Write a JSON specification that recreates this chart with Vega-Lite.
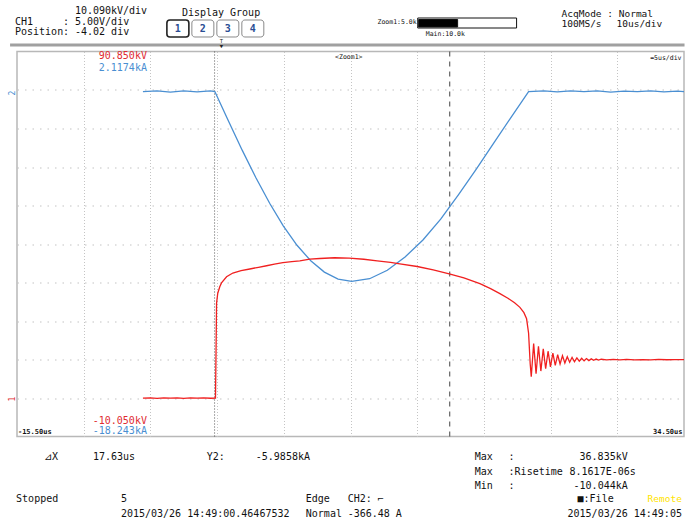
{
  "$schema": "https://vega.github.io/schema/vega-lite/v6.json",
  "width": 667,
  "height": 385,
  "autosize": "none",
  "padding": {"left": 17, "top": 51.5, "right": 1, "bottom": 84.5},
  "background": "white",
  "config": {
    "view": {"stroke": "#b8b8b8", "strokeWidth": 1.5},
    "axisX": {"grid": true, "gridDash": [1, 2], "gridColor": "#c4c4c4", "gridWidth": 1, "labels": false, "ticks": false, "domain": false},
    "axisY": {"grid": true, "gridDash": [1.5, 6], "gridColor": "#c4c4c4", "gridWidth": 1.2, "labels": false, "ticks": false, "domain": false}
  },
  "datasets": {
    "ch1": [
      {"t": -6.06, "kV": 0}, {"t": -5.5, "kV": 0.05}, {"t": -5, "kV": -0.05}, {"t": -4.5, "kV": 0.08}, {"t": -4, "kV": 0},
      {"t": -3.5, "kV": 0.06}, {"t": -3, "kV": -0.04}, {"t": -2.5, "kV": 0.05}, {"t": -2, "kV": 0}, {"t": -1.5, "kV": 0.07},
      {"t": -1, "kV": -0.03}, {"t": -0.62, "kV": 0}, {"t": -0.58, "kV": 12}, {"t": -0.54, "kV": 24.9}, {"t": -0.45, "kV": 27.5},
      {"t": -0.3, "kV": 29.2}, {"t": -0.17, "kV": 30.2}, {"t": 0.21, "kV": 31.8}, {"t": 0.68, "kV": 32.8}, {"t": 1.3, "kV": 33.4},
      {"t": 1.95, "kV": 33.85}, {"t": 2.6, "kV": 34.3}, {"t": 3.21, "kV": 34.7}, {"t": 3.8, "kV": 35.1}, {"t": 4.43, "kV": 35.5},
      {"t": 5.1, "kV": 35.8}, {"t": 5.7, "kV": 36.0}, {"t": 6.45, "kV": 36.45}, {"t": 7.2, "kV": 36.6}, {"t": 8.3, "kV": 36.8},
      {"t": 9.4, "kV": 36.7}, {"t": 10.5, "kV": 36.4}, {"t": 11.5, "kV": 36.0}, {"t": 12.5, "kV": 35.6}, {"t": 13.2, "kV": 35.2},
      {"t": 14.5, "kV": 34.5}, {"t": 15.7, "kV": 33.6}, {"t": 16.9, "kV": 32.6}, {"t": 18.0, "kV": 31.5}, {"t": 19.2, "kV": 30.0},
      {"t": 20.0, "kV": 28.7}, {"t": 20.7, "kV": 27.4}, {"t": 21.3, "kV": 26.2}, {"t": 21.8, "kV": 25.0}, {"t": 22.2, "kV": 23.8},
      {"t": 22.5, "kV": 22.4}, {"t": 22.7, "kV": 20.8}, {"t": 22.85, "kV": 17.0}, {"t": 22.97, "kV": 9.0}, {"t": 23.05, "kV": 5.6},
      {"t": 23.23, "kV": 14.3}, {"t": 23.41, "kV": 6.4}, {"t": 23.59, "kV": 13.6}, {"t": 23.77, "kV": 7.1}, {"t": 23.95, "kV": 12.9},
      {"t": 24.13, "kV": 7.7}, {"t": 24.31, "kV": 12.3}, {"t": 24.49, "kV": 8.2}, {"t": 24.67, "kV": 11.8}, {"t": 24.85, "kV": 8.6},
      {"t": 25.03, "kV": 11.4}, {"t": 25.21, "kV": 8.95}, {"t": 25.39, "kV": 11.1}, {"t": 25.57, "kV": 9.2}, {"t": 25.75, "kV": 10.85},
      {"t": 25.93, "kV": 9.4}, {"t": 26.11, "kV": 10.7}, {"t": 26.29, "kV": 9.55}, {"t": 26.47, "kV": 10.55}, {"t": 26.65, "kV": 9.68},
      {"t": 26.83, "kV": 10.45}, {"t": 27.01, "kV": 9.78}, {"t": 27.19, "kV": 10.38}, {"t": 27.37, "kV": 9.85}, {"t": 27.55, "kV": 10.3},
      {"t": 27.73, "kV": 9.92}, {"t": 27.91, "kV": 10.25}, {"t": 28.09, "kV": 9.96}, {"t": 28.3, "kV": 10.2}, {"t": 28.7, "kV": 10.02},
      {"t": 29.2, "kV": 10.15}, {"t": 29.7, "kV": 10.05}, {"t": 30.2, "kV": 10.15}, {"t": 30.8, "kV": 10.05}, {"t": 31.4, "kV": 10.12},
      {"t": 32.0, "kV": 10.05}, {"t": 32.6, "kV": 10.14}, {"t": 33.2, "kV": 10.06}, {"t": 33.8, "kV": 10.12}, {"t": 34.5, "kV": 10.08}
    ],
    "ch2": [
      {"t": -6.06, "kA": 0}, {"t": -5, "kA": 0.03}, {"t": -4, "kA": -0.03}, {"t": -3, "kA": 0.04}, {"t": -2, "kA": -0.02},
      {"t": -1, "kA": 0.03}, {"t": -0.67, "kA": 0}, {"t": 0.36, "kA": -1.57}, {"t": 1.38, "kA": -3.10}, {"t": 2.41, "kA": -4.56},
      {"t": 3.44, "kA": -5.91}, {"t": 4.46, "kA": -7.10}, {"t": 5.49, "kA": -8.13}, {"t": 6.52, "kA": -8.95}, {"t": 7.54, "kA": -9.55},
      {"t": 8.57, "kA": -9.92}, {"t": 9.59, "kA": -10.04}, {"t": 10.93, "kA": -9.9}, {"t": 12.26, "kA": -9.45}, {"t": 13.59, "kA": -8.75},
      {"t": 14.93, "kA": -7.85}, {"t": 16.26, "kA": -6.75}, {"t": 17.6, "kA": -5.45}, {"t": 18.93, "kA": -4.1}, {"t": 20.26, "kA": -2.7},
      {"t": 21.6, "kA": -1.3}, {"t": 22.85, "kA": 0}, {"t": 24, "kA": 0.03}, {"t": 25, "kA": -0.02}, {"t": 26, "kA": 0.04},
      {"t": 27, "kA": 0}, {"t": 28, "kA": 0.03}, {"t": 29, "kA": -0.03}, {"t": 30, "kA": 0.02}, {"t": 31, "kA": 0},
      {"t": 32, "kA": 0.04}, {"t": 33, "kA": -0.02}, {"t": 34, "kA": 0.02}, {"t": 34.5, "kA": 0}
    ],
    "cursor1": [{"t": -0.69}],
    "cursor2": [{"t": 16.94}],
    "sep": [{"t1": -16.02, "t2": 34.54, "d": 10.169}],
    "boxes": [
      {"t1": -4.264, "t2": -2.616, "d1": 10.818, "d2": 10.377, "tc": -3.44, "dc": 10.597, "label": "1", "sel": true},
      {"t1": -2.392, "t2": -0.744, "d1": 10.818, "d2": 10.377, "tc": -1.567, "dc": 10.597, "label": "2", "sel": false},
      {"t1": -0.519, "t2": 1.129, "d1": 10.818, "d2": 10.377, "tc": 0.305, "dc": 10.597, "label": "3", "sel": false},
      {"t1": 1.354, "t2": 3.002, "d1": 10.818, "d2": 10.377, "tc": 2.178, "dc": 10.597, "label": "4", "sel": false}
    ],
    "zoombar": [
      {"t1": 14.54, "t2": 21.95, "d1": 10.87, "d2": 10.61, "part": "frame"},
      {"t1": 14.61, "t2": 17.53, "d1": 10.831, "d2": 10.636, "part": "fill"}
    ],
    "labels": [
      {"t": -11.16, "d": 11.052, "text": "10.090kV/div", "role": "hdr"},
      {"t": -15.65, "d": 10.779, "text": "CH1", "role": "hdr"},
      {"t": -12.055, "d": 10.779, "text": ": 5.00V/div", "role": "hdr"},
      {"t": -15.65, "d": 10.506, "text": "Position", "role": "hdr"},
      {"t": -12.055, "d": 10.506, "text": ": -4.02 div", "role": "hdr"},
      {"t": -3.14, "d": 11.0, "text": "Display Group", "role": "hdr"},
      {"t": 25.32, "d": 10.974, "text": "AcqMode : Normal", "role": "hdrR"},
      {"t": 25.32, "d": 10.714, "text": "100MS/s", "role": "hdrR"},
      {"t": 29.44, "d": 10.714, "text": "10us/div", "role": "hdrR"},
      {"t": 14.46, "d": 10.766, "text": "Zoom1:5.0k", "role": "smallR"},
      {"t": 15.14, "d": 10.455, "text": "Main:10.0k", "role": "small"},
      {"t": 9.37, "d": 9.857, "text": "<Zoom1>", "role": "smallC"},
      {"t": 34.31, "d": 9.844, "text": "=5us/div", "role": "smallR"},
      {"t": -15.43, "d": 0.117, "text": "-15.50us", "role": "edgeL"},
      {"t": 34.39, "d": 0.117, "text": "34.50us", "role": "edgeR"},
      {"t": -5.76, "d": 9.883, "text": "90.850kV", "role": "red"},
      {"t": -5.76, "d": 0.403, "text": "-10.050kV", "role": "red"},
      {"t": -5.76, "d": 9.584, "text": "2.1174kA", "role": "blue"},
      {"t": -5.76, "d": 0.143, "text": "-18.243kA", "role": "blue"},
      {"t": -13.48, "d": -0.532, "text": "⊿X", "role": "foot"},
      {"t": -9.81, "d": -0.532, "text": "17.63us", "role": "foot"},
      {"t": -1.27, "d": -0.532, "text": "Y2:", "role": "foot"},
      {"t": 2.40, "d": -0.532, "text": "-5.9858kA", "role": "foot"},
      {"t": 18.81, "d": -0.532, "text": "Max", "role": "foot"},
      {"t": 21.35, "d": -0.532, "text": ":", "role": "foot"},
      {"t": 26.67, "d": -0.532, "text": "36.835kV", "role": "foot"},
      {"t": 18.81, "d": -0.922, "text": "Max", "role": "foot"},
      {"t": 21.35, "d": -0.922, "text": ":Risetime", "role": "foot"},
      {"t": 25.92, "d": -0.922, "text": "8.1617E-06s", "role": "foot"},
      {"t": 18.81, "d": -1.286, "text": "Min", "role": "foot"},
      {"t": 21.35, "d": -1.286, "text": ":", "role": "foot"},
      {"t": 26.22, "d": -1.286, "text": "-10.044kA", "role": "foot"},
      {"t": -15.57, "d": -1.623, "text": "Stopped", "role": "foot"},
      {"t": -7.71, "d": -1.623, "text": "5", "role": "foot"},
      {"t": 6.15, "d": -1.623, "text": "Edge", "role": "foot"},
      {"t": 9.29, "d": -1.623, "text": "CH2: ⌐", "role": "foot"},
      {"t": 26.52, "d": -1.623, "text": "■:File", "role": "foot"},
      {"t": 31.77, "d": -1.623, "text": "Remote", "role": "remote"},
      {"t": -7.71, "d": -2.013, "text": "2015/03/26 14:49:00.46467532", "role": "foot"},
      {"t": 6.15, "d": -2.013, "text": "Normal", "role": "foot"},
      {"t": 9.29, "d": -2.013, "text": "-366.48 A", "role": "foot"},
      {"t": 25.77, "d": -2.013, "text": "2015/03/26 14:49:05", "role": "foot"},
      {"t": -15.8, "d": 8.922, "text": "2", "role": "mk2"},
      {"t": -15.8, "d": 0.974, "text": "1", "role": "mk1"},
      {"t": -0.18, "d": 10.273, "text": "T", "role": "trig"},
      {"t": -0.18, "d": 10.13, "text": "▼", "role": "trig"}
    ]
  },
  "resolve": {"scale": {"y": "independent"}},
  "layer": [
    {
      "data": {"name": "sep"},
      "mark": {"type": "rule", "color": "#a0a0a0", "strokeWidth": 3},
      "encoding": {
        "x": {"field": "t1", "type": "quantitative", "scale": {"domain": [-15.5, 34.5], "nice": false, "zero": false}, "axis": {"values": [-10.5, -5.5, -0.5, 4.5, 9.5, 14.5, 19.5, 24.5, 29.5], "title": null}},
        "x2": {"field": "t2"},
        "y": {"field": "d", "type": "quantitative", "scale": {"domain": [0, 10], "nice": false, "zero": false}, "axis": {"values": [1, 2, 3, 4, 5, 6, 7, 8, 9], "title": null}}
      }
    },
    {
      "data": {"name": "cursor1"},
      "mark": {"type": "rule", "color": "#555555", "strokeWidth": 1, "strokeDash": [1, 2]},
      "encoding": {
        "x": {"field": "t", "type": "quantitative", "scale": {"domain": [-15.5, 34.5], "nice": false, "zero": false}, "axis": {"values": [-10.5, -5.5, -0.5, 4.5, 9.5, 14.5, 19.5, 24.5, 29.5], "title": null}}
      }
    },
    {
      "data": {"name": "cursor2"},
      "mark": {"type": "rule", "color": "#444444", "strokeWidth": 1, "strokeDash": [5, 5]},
      "encoding": {
        "x": {"field": "t", "type": "quantitative", "scale": {"domain": [-15.5, 34.5], "nice": false, "zero": false}, "axis": {"values": [-10.5, -5.5, -0.5, 4.5, 9.5, 14.5, 19.5, 24.5, 29.5], "title": null}}
      }
    },
    {
      "data": {"name": "ch2"},
      "mark": {"type": "line", "color": "#4a8fd2", "strokeWidth": 1.3},
      "encoding": {
        "x": {"field": "t", "type": "quantitative", "scale": {"domain": [-15.5, 34.5], "nice": false, "zero": false}, "axis": {"values": [-10.5, -5.5, -0.5, 4.5, 9.5, 14.5, 19.5, 24.5, 29.5], "title": null}},
        "y": {"field": "kA", "type": "quantitative", "scale": {"domain": [-18.243, 2.1174], "nice": false, "zero": false}, "axis": null}
      }
    },
    {
      "data": {"name": "ch1"},
      "mark": {"type": "line", "color": "#f02020", "strokeWidth": 1.3},
      "encoding": {
        "x": {"field": "t", "type": "quantitative", "scale": {"domain": [-15.5, 34.5], "nice": false, "zero": false}, "axis": {"values": [-10.5, -5.5, -0.5, 4.5, 9.5, 14.5, 19.5, 24.5, 29.5], "title": null}},
        "y": {"field": "kV", "type": "quantitative", "scale": {"domain": [-10.05, 90.85], "nice": false, "zero": false}, "axis": null}
      }
    },
    {
      "data": {"name": "boxes"},
      "mark": {"type": "rect", "fill": "white", "cornerRadius": 3},
      "encoding": {
        "x": {"field": "t1", "type": "quantitative", "scale": {"domain": [-15.5, 34.5], "nice": false, "zero": false}, "axis": {"values": [-10.5, -5.5, -0.5, 4.5, 9.5, 14.5, 19.5, 24.5, 29.5], "title": null}},
        "x2": {"field": "t2"},
        "y": {"field": "d1", "type": "quantitative", "scale": {"domain": [0, 10], "nice": false, "zero": false}, "axis": null},
        "y2": {"field": "d2"},
        "stroke": {"condition": {"test": "datum.sel", "value": "#222222"}, "value": "#8a8a8a"},
        "strokeWidth": {"condition": {"test": "datum.sel", "value": 1.6}, "value": 1}
      }
    },
    {
      "data": {"name": "boxes"},
      "mark": {"type": "text", "align": "center", "baseline": "middle", "font": "DejaVu Sans Mono", "fontSize": 10, "fontWeight": "bold", "color": "#2a4d94"},
      "encoding": {
        "x": {"field": "tc", "type": "quantitative", "scale": {"domain": [-15.5, 34.5], "nice": false, "zero": false}, "axis": {"values": [-10.5, -5.5, -0.5, 4.5, 9.5, 14.5, 19.5, 24.5, 29.5], "title": null}},
        "y": {"field": "dc", "type": "quantitative", "scale": {"domain": [0, 10], "nice": false, "zero": false}, "axis": null},
        "text": {"field": "label"}
      }
    },
    {
      "data": {"name": "zoombar"},
      "mark": {"type": "rect", "stroke": "#111111", "strokeWidth": 1},
      "encoding": {
        "x": {"field": "t1", "type": "quantitative", "scale": {"domain": [-15.5, 34.5], "nice": false, "zero": false}, "axis": {"values": [-10.5, -5.5, -0.5, 4.5, 9.5, 14.5, 19.5, 24.5, 29.5], "title": null}},
        "x2": {"field": "t2"},
        "y": {"field": "d1", "type": "quantitative", "scale": {"domain": [0, 10], "nice": false, "zero": false}, "axis": null},
        "y2": {"field": "d2"},
        "fill": {"field": "part", "type": "nominal", "scale": {"domain": ["frame", "fill"], "range": ["#ffffff", "#000000"]}, "legend": null}
      }
    },
    {
      "data": {"name": "labels"},
      "transform": [{"filter": "datum.role == 'hdr' || datum.role == 'foot'"}],
      "mark": {"type": "text", "align": "left", "baseline": "middle", "font": "DejaVu Sans Mono", "fontSize": 10, "color": "#111111"},
      "encoding": {
        "x": {"field": "t", "type": "quantitative", "scale": {"domain": [-15.5, 34.5], "nice": false, "zero": false}, "axis": {"values": [-10.5, -5.5, -0.5, 4.5, 9.5, 14.5, 19.5, 24.5, 29.5], "title": null}},
        "y": {"field": "d", "type": "quantitative", "scale": {"domain": [0, 10], "nice": false, "zero": false}, "axis": null},
        "text": {"field": "text"}
      }
    },
    {
      "data": {"name": "labels"},
      "transform": [{"filter": "datum.role == 'hdrR'"}],
      "mark": {"type": "text", "align": "left", "baseline": "middle", "font": "DejaVu Sans Mono", "fontSize": 9.5, "color": "#111111"},
      "encoding": {
        "x": {"field": "t", "type": "quantitative", "scale": {"domain": [-15.5, 34.5], "nice": false, "zero": false}, "axis": {"values": [-10.5, -5.5, -0.5, 4.5, 9.5, 14.5, 19.5, 24.5, 29.5], "title": null}},
        "y": {"field": "d", "type": "quantitative", "scale": {"domain": [0, 10], "nice": false, "zero": false}, "axis": null},
        "text": {"field": "text"}
      }
    },
    {
      "data": {"name": "labels"},
      "transform": [{"filter": "datum.role == 'remote'"}],
      "mark": {"type": "text", "align": "left", "baseline": "middle", "font": "DejaVu Sans Mono", "fontSize": 9.5, "color": "#ffe400"},
      "encoding": {
        "x": {"field": "t", "type": "quantitative", "scale": {"domain": [-15.5, 34.5], "nice": false, "zero": false}, "axis": {"values": [-10.5, -5.5, -0.5, 4.5, 9.5, 14.5, 19.5, 24.5, 29.5], "title": null}},
        "y": {"field": "d", "type": "quantitative", "scale": {"domain": [0, 10], "nice": false, "zero": false}, "axis": null},
        "text": {"field": "text"}
      }
    },
    {
      "data": {"name": "labels"},
      "transform": [{"filter": "datum.role == 'red'"}],
      "mark": {"type": "text", "align": "right", "baseline": "middle", "font": "DejaVu Sans Mono", "fontSize": 10, "color": "#e02a30"},
      "encoding": {
        "x": {"field": "t", "type": "quantitative", "scale": {"domain": [-15.5, 34.5], "nice": false, "zero": false}, "axis": {"values": [-10.5, -5.5, -0.5, 4.5, 9.5, 14.5, 19.5, 24.5, 29.5], "title": null}},
        "y": {"field": "d", "type": "quantitative", "scale": {"domain": [0, 10], "nice": false, "zero": false}, "axis": null},
        "text": {"field": "text"}
      }
    },
    {
      "data": {"name": "labels"},
      "transform": [{"filter": "datum.role == 'blue'"}],
      "mark": {"type": "text", "align": "right", "baseline": "middle", "font": "DejaVu Sans Mono", "fontSize": 10, "color": "#4a8fd2"},
      "encoding": {
        "x": {"field": "t", "type": "quantitative", "scale": {"domain": [-15.5, 34.5], "nice": false, "zero": false}, "axis": {"values": [-10.5, -5.5, -0.5, 4.5, 9.5, 14.5, 19.5, 24.5, 29.5], "title": null}},
        "y": {"field": "d", "type": "quantitative", "scale": {"domain": [0, 10], "nice": false, "zero": false}, "axis": null},
        "text": {"field": "text"}
      }
    },
    {
      "data": {"name": "labels"},
      "transform": [{"filter": "datum.role == 'small'"}],
      "mark": {"type": "text", "align": "left", "baseline": "middle", "font": "DejaVu Sans Mono", "fontSize": 6.5, "color": "#111111"},
      "encoding": {
        "x": {"field": "t", "type": "quantitative", "scale": {"domain": [-15.5, 34.5], "nice": false, "zero": false}, "axis": {"values": [-10.5, -5.5, -0.5, 4.5, 9.5, 14.5, 19.5, 24.5, 29.5], "title": null}},
        "y": {"field": "d", "type": "quantitative", "scale": {"domain": [0, 10], "nice": false, "zero": false}, "axis": null},
        "text": {"field": "text"}
      }
    },
    {
      "data": {"name": "labels"},
      "transform": [{"filter": "datum.role == 'smallR'"}],
      "mark": {"type": "text", "align": "right", "baseline": "middle", "font": "DejaVu Sans Mono", "fontSize": 6.5, "color": "#111111"},
      "encoding": {
        "x": {"field": "t", "type": "quantitative", "scale": {"domain": [-15.5, 34.5], "nice": false, "zero": false}, "axis": {"values": [-10.5, -5.5, -0.5, 4.5, 9.5, 14.5, 19.5, 24.5, 29.5], "title": null}},
        "y": {"field": "d", "type": "quantitative", "scale": {"domain": [0, 10], "nice": false, "zero": false}, "axis": null},
        "text": {"field": "text"}
      }
    },
    {
      "data": {"name": "labels"},
      "transform": [{"filter": "datum.role == 'smallC'"}],
      "mark": {"type": "text", "align": "center", "baseline": "middle", "font": "DejaVu Sans Mono", "fontSize": 6.5, "color": "#111111"},
      "encoding": {
        "x": {"field": "t", "type": "quantitative", "scale": {"domain": [-15.5, 34.5], "nice": false, "zero": false}, "axis": {"values": [-10.5, -5.5, -0.5, 4.5, 9.5, 14.5, 19.5, 24.5, 29.5], "title": null}},
        "y": {"field": "d", "type": "quantitative", "scale": {"domain": [0, 10], "nice": false, "zero": false}, "axis": null},
        "text": {"field": "text"}
      }
    },
    {
      "data": {"name": "labels"},
      "transform": [{"filter": "datum.role == 'edgeL'"}],
      "mark": {"type": "text", "align": "left", "baseline": "middle", "font": "DejaVu Sans Mono", "fontSize": 7, "fontWeight": "bold", "color": "#111111"},
      "encoding": {
        "x": {"field": "t", "type": "quantitative", "scale": {"domain": [-15.5, 34.5], "nice": false, "zero": false}, "axis": {"values": [-10.5, -5.5, -0.5, 4.5, 9.5, 14.5, 19.5, 24.5, 29.5], "title": null}},
        "y": {"field": "d", "type": "quantitative", "scale": {"domain": [0, 10], "nice": false, "zero": false}, "axis": null},
        "text": {"field": "text"}
      }
    },
    {
      "data": {"name": "labels"},
      "transform": [{"filter": "datum.role == 'edgeR'"}],
      "mark": {"type": "text", "align": "right", "baseline": "middle", "font": "DejaVu Sans Mono", "fontSize": 7, "fontWeight": "bold", "color": "#111111"},
      "encoding": {
        "x": {"field": "t", "type": "quantitative", "scale": {"domain": [-15.5, 34.5], "nice": false, "zero": false}, "axis": {"values": [-10.5, -5.5, -0.5, 4.5, 9.5, 14.5, 19.5, 24.5, 29.5], "title": null}},
        "y": {"field": "d", "type": "quantitative", "scale": {"domain": [0, 10], "nice": false, "zero": false}, "axis": null},
        "text": {"field": "text"}
      }
    },
    {
      "data": {"name": "labels"},
      "transform": [{"filter": "datum.role == 'mk2'"}],
      "mark": {"type": "text", "align": "center", "baseline": "middle", "font": "DejaVu Sans Mono", "fontSize": 8, "angle": 270, "color": "#4a8fd2"},
      "encoding": {
        "x": {"field": "t", "type": "quantitative", "scale": {"domain": [-15.5, 34.5], "nice": false, "zero": false}, "axis": {"values": [-10.5, -5.5, -0.5, 4.5, 9.5, 14.5, 19.5, 24.5, 29.5], "title": null}},
        "y": {"field": "d", "type": "quantitative", "scale": {"domain": [0, 10], "nice": false, "zero": false}, "axis": null},
        "text": {"field": "text"}
      }
    },
    {
      "data": {"name": "labels"},
      "transform": [{"filter": "datum.role == 'mk1'"}],
      "mark": {"type": "text", "align": "center", "baseline": "middle", "font": "DejaVu Sans Mono", "fontSize": 8, "angle": 270, "color": "#e02a30"},
      "encoding": {
        "x": {"field": "t", "type": "quantitative", "scale": {"domain": [-15.5, 34.5], "nice": false, "zero": false}, "axis": {"values": [-10.5, -5.5, -0.5, 4.5, 9.5, 14.5, 19.5, 24.5, 29.5], "title": null}},
        "y": {"field": "d", "type": "quantitative", "scale": {"domain": [0, 10], "nice": false, "zero": false}, "axis": null},
        "text": {"field": "text"}
      }
    },
    {
      "data": {"name": "labels"},
      "transform": [{"filter": "datum.role == 'trig'"}],
      "mark": {"type": "text", "align": "center", "baseline": "middle", "font": "DejaVu Sans Mono", "fontSize": 5.5, "color": "#222222"},
      "encoding": {
        "x": {"field": "t", "type": "quantitative", "scale": {"domain": [-15.5, 34.5], "nice": false, "zero": false}, "axis": {"values": [-10.5, -5.5, -0.5, 4.5, 9.5, 14.5, 19.5, 24.5, 29.5], "title": null}},
        "y": {"field": "d", "type": "quantitative", "scale": {"domain": [0, 10], "nice": false, "zero": false}, "axis": null},
        "text": {"field": "text"}
      }
    }
  ]
}
